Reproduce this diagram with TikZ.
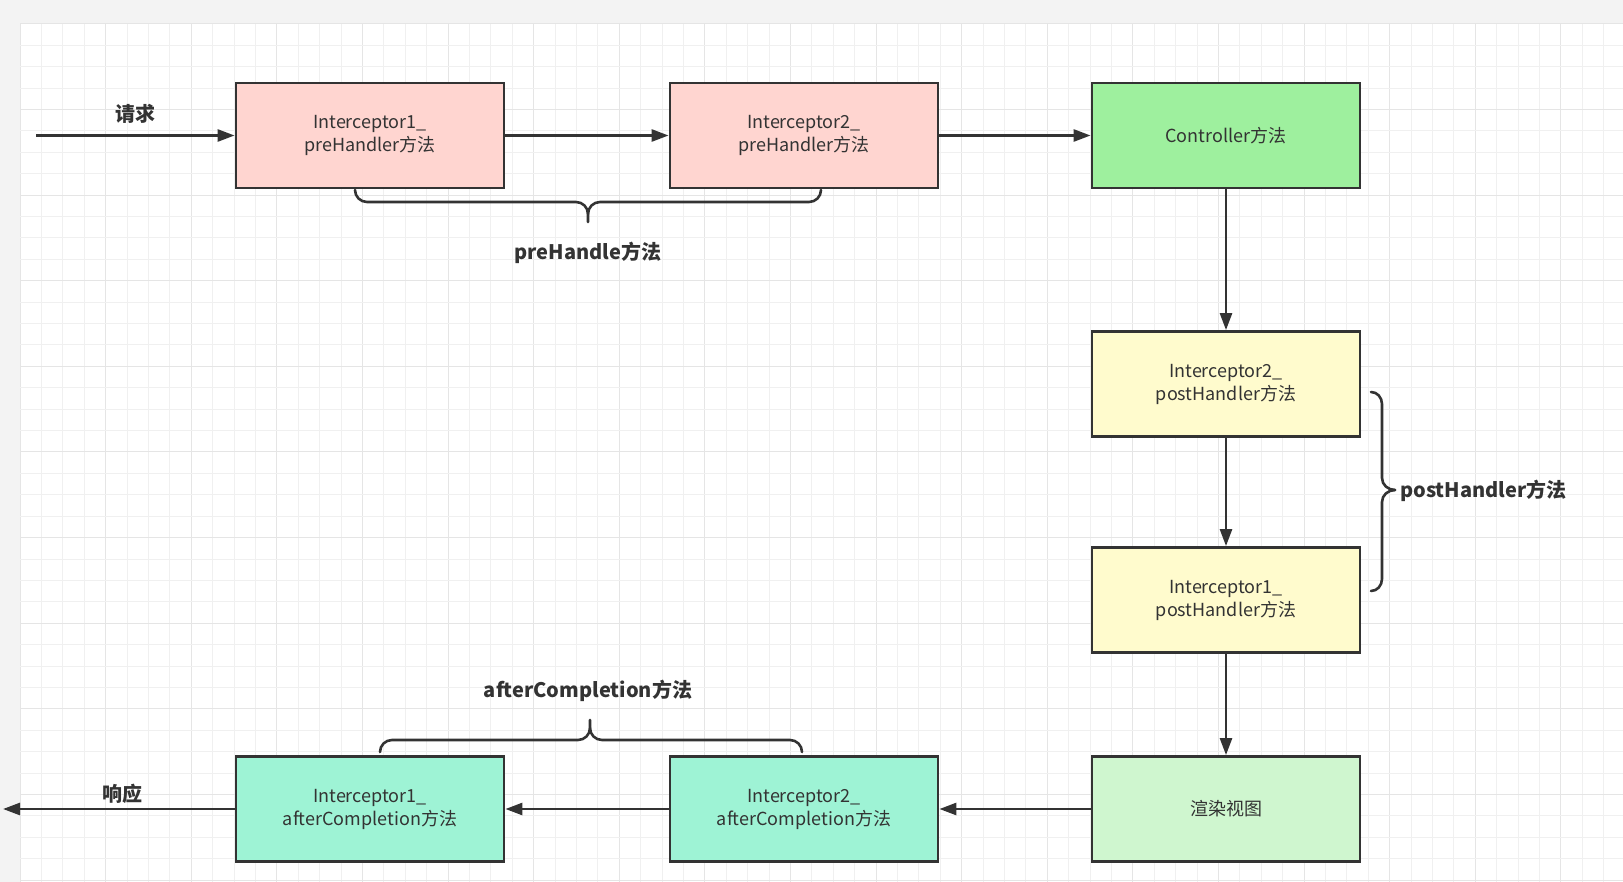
\documentclass[tikz,border=0pt]{standalone}
\usepackage{fontspec}
\setmainfont{Noto Sans CJK SC}
\usetikzlibrary{arrows.meta}
\definecolor{ink}{HTML}{333333}
\definecolor{pinkf}{HTML}{FFD5D0}
\definecolor{ctrlf}{HTML}{9EF09E}
\definecolor{yelf}{HTML}{FFFBCD}
\definecolor{rendf}{HTML}{CFF6CF}
\definecolor{tealf}{HTML}{9EF3D5}
\definecolor{gridminor}{HTML}{F0F0F0}
\definecolor{gridmajor}{HTML}{E5E5E5}
\definecolor{outer}{HTML}{F3F3F3}
\tikzset{
  box/.style={draw=ink, line width=2.8pt, minimum width=268pt, minimum height=105pt,
    inner sep=0pt, align=center, text=ink, font=\fontsize{18}{23}\selectfont},
  flow/.style={draw=ink, line width=2.6pt, -{Triangle[length=17pt,width=12pt]}},
  brace/.style={draw=ink, line width=2.6pt, line cap=round},
  blabel/.style={text=ink, font=\fontsize{20}{23}\selectfont\bfseries, inner sep=0pt}
}
\begin{document}
\begin{tikzpicture}[x=1pt,y=-1pt]
\useasboundingbox (0,0) rectangle (1623,882);
\fill[outer] (0,0) rectangle (1623,882);
\fill[white] (20,24) rectangle (1623,882);
% grid
\foreach \i in {0,...,75} {
  \pgfmathsetmacro\xx{20+21.4*\i}
  \pgfmathtruncatemacro\mm{mod(\i,4)}
  \ifnum\mm=0
    \draw[gridmajor, line width=1pt] (\xx,24) -- (\xx,882);
  \else
    \draw[gridminor, line width=1pt] (\xx,24) -- (\xx,882);
  \fi
}
\foreach \j in {0,...,40} {
  \pgfmathsetmacro\yy{24+21.4*\j}
  \pgfmathtruncatemacro\mm{mod(\j,4)}
  \ifnum\mm=0
    \draw[gridmajor, line width=1pt] (20,\yy) -- (1623,\yy);
  \else
    \draw[gridminor, line width=1pt] (20,\yy) -- (1623,\yy);
  \fi
}
% nodes
\node[box, fill=pinkf] (i1pre) at (370,135.5) {Interceptor1\_\\preHandler方法};
\node[box, fill=pinkf] (i2pre) at (804,135.5) {Interceptor2\_\\preHandler方法};
\node[box, fill=ctrlf] (ctrl) at (1226,135.5) {Controller方法};
\node[box, fill=yelf] (i2post) at (1226,384) {Interceptor2\_\\postHandler方法};
\node[box, fill=yelf] (i1post) at (1226,600) {Interceptor1\_\\postHandler方法};
\node[box, fill=rendf] (render) at (1226,809) {渲染视图};
\node[box, fill=tealf] (i2after) at (804,809) {Interceptor2\_\\afterCompletion方法};
\node[box, fill=tealf] (i1after) at (370,809) {Interceptor1\_\\afterCompletion方法};
\coordinate (start) at (36,135.5);
\coordinate (finish) at (3,809);
% flow
\draw[flow] (start) -- (i1pre.west);
\draw[flow] (i1pre) -- (i2pre);
\draw[flow] (i2pre) -- (ctrl);
\draw[flow] (ctrl) -- (i2post);
\draw[flow] (i2post) -- (i1post);
\draw[flow] (i1post) -- (render);
\draw[flow] (render) -- (i2after);
\draw[flow] (i2after) -- (i1after);
\draw[flow] (i1after.west) -- (finish);
\node[blabel] (req) at (135,114) {请求};
\node[blabel] (resp) at (122,794) {响应};
% braces
\draw[brace] (355,190) to[out=-90,in=180] (367,202) -- (576,202) to[out=0,in=90] (588,214) -- (588,222);
\draw[brace] (821,190) to[out=-90,in=0] (809,202) -- (600,202) to[out=180,in=90] (588,214);
\node[blabel] (prelab) at (588,253) {preHandle方法};
\draw[brace] (380,752) to[out=90,in=180] (392,740) -- (578,740) to[out=0,in=-90] (590,728) -- (590,720);
\draw[brace] (802,752) to[out=90,in=0] (790,740) -- (602,740) to[out=180,in=-90] (590,728);
\node[blabel] (afterlab) at (588,691) {afterCompletion方法};
\draw[brace] (1371,392) to[out=0,in=90] (1382,404) -- (1382,478) to[out=-90,in=180] (1395,490);
\draw[brace] (1371,591) to[out=0,in=-90] (1382,579) -- (1382,502) to[out=90,in=180] (1395,490);
\node[blabel, anchor=west] (postlab) at (1400,491) {postHandler方法};
\end{tikzpicture}
\end{document}
